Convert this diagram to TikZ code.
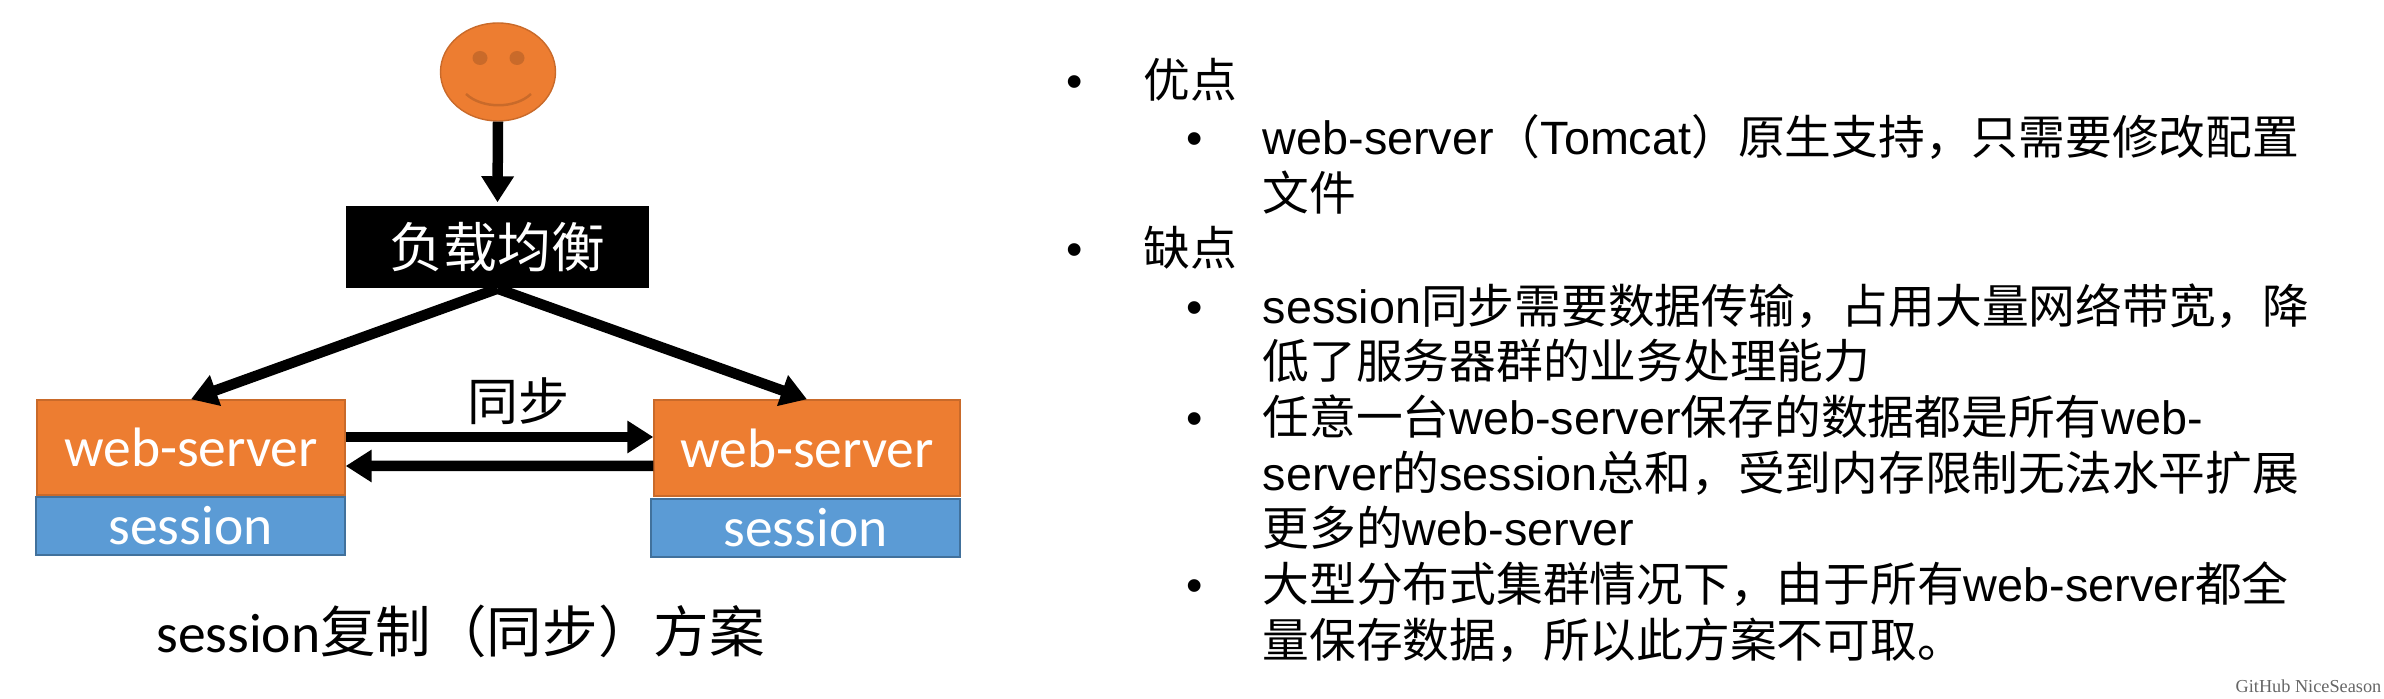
\documentclass[tikz,border=0pt]{standalone}
\usepackage{fontspec}
\setmainfont{Liberation Sans}
\newfontfamily\cjkfont{Noto Sans CJK SC}
\newfontfamily\boxfont{Carlito}
\newfontfamily\markfont{Liberation Serif}
\newcommand{\zh}[1]{{\cjkfont #1}}
\usepackage{tikz}
\usetikzlibrary{arrows.meta}
\usetikzlibrary{shapes.geometric}
\definecolor{faceorange}{HTML}{ED7D31}
\definecolor{faceline}{HTML}{C96A2A}
\definecolor{sessionblue}{HTML}{5B9BD5}
\definecolor{sessionline}{HTML}{41719C}
\tikzstyle{flow} = [line width=0.105cm,-{Triangle[width=0.31cm,length=0.26cm]}]
\tikzstyle{server} = [draw=faceline,fill=faceorange,text=white,inner sep=0mm,line width=0.4pt,font=\boxfont\fontsize{15.8}{18}\selectfont]
\tikzstyle{sess} = [draw=sessionline,fill=sessionblue,text=white,inner sep=0mm,line width=0.4pt,font=\boxfont\fontsize{15.8}{18}\selectfont]
\tikzstyle{item} = [anchor=west,inner sep=0mm,text height=12pt,text depth=3pt,font=\fontsize{13.3}{15}\selectfont]
\tikzstyle{dot} = [inner sep=0mm,font=\fontsize{13.3}{15}\selectfont]

\begin{document}
\begin{tikzpicture}[scale=1]
\useasboundingbox (0,0) rectangle (23.84,6.99);

\draw(4.98,6.27) node (face) [ellipse,draw=faceline,fill=faceorange,minimum width=1.15cm,minimum height=0.98cm,inner sep=0mm] {};
\fill[faceline] (4.80,6.41) ellipse (0.075 and 0.07);
\fill[faceline] (5.17,6.41) ellipse (0.075 and 0.07);
\draw[faceline,line width=0.7pt] (4.66,6.05) .. controls (4.82,5.90) and (5.15,5.90) .. (5.31,6.05);

\draw(4.975,4.52) node (lb) [fill=black,text=white,minimum width=3.03cm,minimum height=0.82cm,inner sep=0mm,font=\cjkfont\fontsize{15.3}{18}\selectfont] {\raisebox{-0.4mm}{负载均衡}};

\draw(1.91,2.515) node (web1) [server,minimum width=3.08cm,minimum height=0.95cm] {web-server};
\draw(1.905,1.73) node (sess1) [sess,minimum width=3.09cm,minimum height=0.58cm] {session};
\draw(8.07,2.51) node (web2) [server,minimum width=3.06cm,minimum height=0.96cm] {web-server};
\draw(8.055,1.71) node (sess2) [sess,minimum width=3.09cm,minimum height=0.58cm] {session};

\draw[flow] (face.south) -- ([yshift=0.03cm]lb.north);
\draw[flow] (lb.south) -- (web1.north);
\draw[flow] (lb.south) -- (web2.north);
\draw[flow] ([yshift=0.105cm]web1.east) -- ([yshift=0.11cm]web2.west);
\draw[flow] ([yshift=-0.18cm]web2.west) -- ([yshift=-0.185cm]web1.east);

\draw(5.18,2.98) node (sync) [inner sep=0mm,font=\cjkfont\fontsize{14.5}{17}\selectfont] {同步};
\draw(4.605,0.68) node (caption) [inner sep=0mm,font=\fontsize{15.8}{18}\selectfont] {{\boxfont session}\zh{复制（同步）方案}};

\draw(10.75,6.12) node (dot1) [dot] {•};
\draw(11.43,6.17) node (good) [item] {\zh{优点}};
\draw(11.95,5.55) node (dot2) [dot] {•};
\draw(12.62,5.60) node (good1a) [item] {web-server\zh{（}Tomcat\zh{）原生支持，只需要修改配置}};
\draw(12.62,5.04) node (good1b) [item] {\zh{文件}};

\draw(10.75,4.44) node (dot3) [dot] {•};
\draw(11.43,4.49) node (bad) [item] {\zh{缺点}};
\draw(11.95,3.86) node (dot4) [dot] {•};
\draw(12.62,3.91) node (bad1a) [item] {session\zh{同步需要数据传输，占用大量网络带宽，降}};
\draw(12.62,3.36) node (bad1b) [item] {\zh{低了服务器群的业务处理能力}};
\draw(11.95,2.75) node (dot5) [dot] {•};
\draw(12.62,2.80) node (bad2a) [item] {\zh{任意一台}web-server\zh{保存的数据都是所有}web-};
\draw(12.62,2.24) node (bad2b) [item] {server\zh{的}session\zh{总和，受到内存限制无法水平扩展}};
\draw(12.62,1.69) node (bad2c) [item] {\zh{更多的}web-server};
\draw(11.95,1.08) node (dot6) [dot] {•};
\draw(12.62,1.13) node (bad3a) [item] {\zh{大型分布式集群情况下，由于所有}web-server\zh{都全}};
\draw(12.62,0.57) node (bad3b) [item] {\zh{量保存数据，所以此方案不可取。}};

\draw(23.82,0.13) node (mark) [anchor=east,inner sep=0mm,text=black!60,font=\markfont\fontsize{5.2}{6}\selectfont] {GitHub NiceSeason};

\end{tikzpicture}
\end{document}
